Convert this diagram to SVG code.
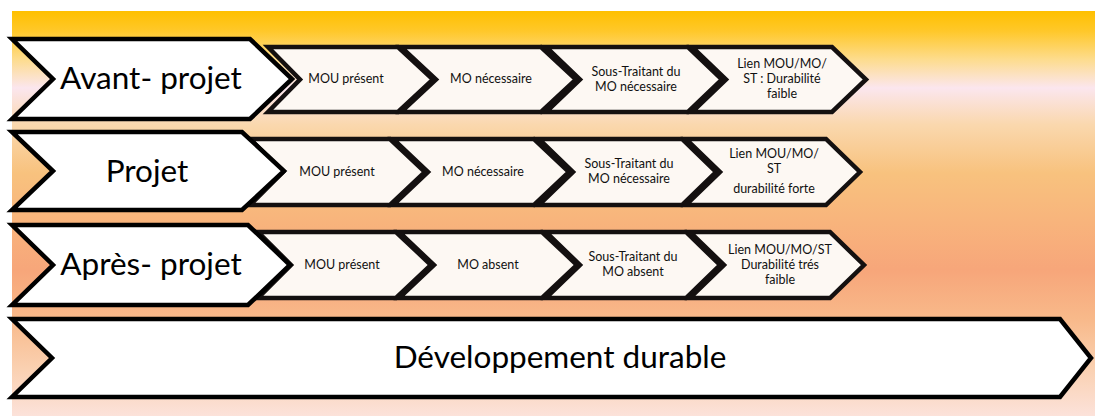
<svg xmlns="http://www.w3.org/2000/svg" width="1095" height="416" viewBox="0 0 1095 416">
  <defs>
    <linearGradient id="bg" x1="0" y1="0" x2="0" y2="1">
      <stop offset="0" stop-color="#FFC000"/>
      <stop offset="0.05" stop-color="#FFC82A"/>
      <stop offset="0.12" stop-color="#FDDC8E"/>
      <stop offset="0.19" stop-color="#FBE6EE"/>
      <stop offset="0.28" stop-color="#FAD8AE"/>
      <stop offset="0.40" stop-color="#F8C27E"/>
      <stop offset="0.52" stop-color="#F8B47C"/>
      <stop offset="0.64" stop-color="#F7A67A"/>
      <stop offset="0.76" stop-color="#F8B98A"/>
      <stop offset="0.88" stop-color="#FAD0B0"/>
      <stop offset="1" stop-color="#FCE2DA"/>
    </linearGradient>
  </defs>
  <style>
    .big { fill: #ffffff; stroke: #000000; stroke-width: 4.5; stroke-linejoin: miter; }
    .small { fill: #FDF8F3; stroke: #141010; stroke-width: 4.5; stroke-linejoin: miter; }
    .bigtxt { font-family: Lato, "Liberation Sans", sans-serif; font-size: 31.5px; fill: #000; text-anchor: middle; }
    .devtxt { font-family: Lato, "Liberation Sans", sans-serif; font-size: 31.5px; fill: #000; text-anchor: middle; }
    .smtxt { font-family: Lato, "Liberation Sans", sans-serif; font-size: 12.5px; fill: #111; text-anchor: middle; }
  </style>
  <rect x="12" y="11" width="1083" height="405" fill="url(#bg)"/>

  <!-- Row 1 -->
  <g id="r1c1"><path class="small" d="M268,47 L398,47 L433,79.5 L398,112 L268,112 L300,79.5 Z"/><text class="smtxt" x="346" y="83">MOU présent</text></g>
  <g id="r1c2"><path class="small" d="M401,47 L541,47 L576,79.5 L541,112 L401,112 L436,79.5 Z"/><text class="smtxt" x="491" y="83">MO nécessaire</text></g>
  <g id="r1c3"><path class="small" d="M546,47 L688,47 L722,79.5 L688,112 L546,112 L580,79.5 Z"/><text class="smtxt" x="636" y="76">Sous-Traitant du</text><text class="smtxt" x="636" y="91">MO nécessaire</text></g>
  <g id="r1c4"><path class="small" d="M692,47 L832,47 L866,79.5 L832,112 L692,112 L726,79.5 Z"/><text class="smtxt" x="782" y="68">Lien MOU/MO/</text><text class="smtxt" x="782" y="83">ST : Durabilité</text><text class="smtxt" x="782" y="98">faible</text></g>
  <g id="r1big"><path class="big" d="M12,39 L250,39 L292,79 L250,119 L12,119 L53,79 Z"/><text class="bigtxt" x="151" y="89">Avant- projet</text></g>

  <!-- Row 2 -->
  <g id="r2c1"><path class="small" d="M250,139 L390,139 L425,172 L390,205 L250,205 L283,172 Z"/><text class="smtxt" x="337" y="176">MOU présent</text></g>
  <g id="r2c2"><path class="small" d="M393,139 L534,139 L569,172 L534,205 L393,205 L428,172 Z"/><text class="smtxt" x="483" y="176">MO nécessaire</text></g>
  <g id="r2c3"><path class="small" d="M539,139 L682,139 L716,172 L682,205 L539,205 L573,172 Z"/><text class="smtxt" x="629" y="168">Sous-Traitant du</text><text class="smtxt" x="629" y="183">MO nécessaire</text></g>
  <g id="r2c4"><path class="small" d="M686,139 L826,139 L860,172 L826,205 L686,205 L720,172 Z"/><text class="smtxt" x="774" y="158">Lien MOU/MO/</text><text class="smtxt" x="774" y="173">ST</text><text class="smtxt" x="774" y="193">durabilité forte</text></g>
  <g id="r2big"><path class="big" d="M12,132 L242,132 L284,171 L242,210 L12,210 L53,171 Z"/><text class="bigtxt" x="147" y="182">Projet</text></g>

  <!-- Row 3 -->
  <g id="r3c1"><path class="small" d="M258,232 L396,232 L431,265 L396,298 L258,298 L291,265 Z"/><text class="smtxt" x="342" y="269">MOU présent</text></g>
  <g id="r3c2"><path class="small" d="M399,232 L542,232 L577,265 L542,298 L399,298 L434,265 Z"/><text class="smtxt" x="488" y="269">MO absent</text></g>
  <g id="r3c3"><path class="small" d="M546,232 L686,232 L720,265 L686,298 L546,298 L580,265 Z"/><text class="smtxt" x="633" y="261">Sous-Traitant du</text><text class="smtxt" x="633" y="276">MO absent</text></g>
  <g id="r3c4"><path class="small" d="M690,232 L830,232 L864,265 L830,298 L690,298 L724,265 Z"/><text class="smtxt" x="780" y="254">Lien MOU/MO/ST</text><text class="smtxt" x="780" y="269">Durabilité trés</text><text class="smtxt" x="780" y="284">faible</text></g>
  <g id="r3big"><path class="big" d="M12,225 L248,225 L290,265 L248,305 L12,305 L53,265 Z"/><text class="bigtxt" x="151" y="275">Après- projet</text></g>

  <!-- Row 4 -->
  <g id="r4big"><path class="big" d="M12,319 L1060,319 L1091,358 L1060,397 L12,397 L52,358 Z"/><text class="devtxt" x="560" y="368">Développement durable</text></g>

  <g id="connectors"></g>
</svg>
